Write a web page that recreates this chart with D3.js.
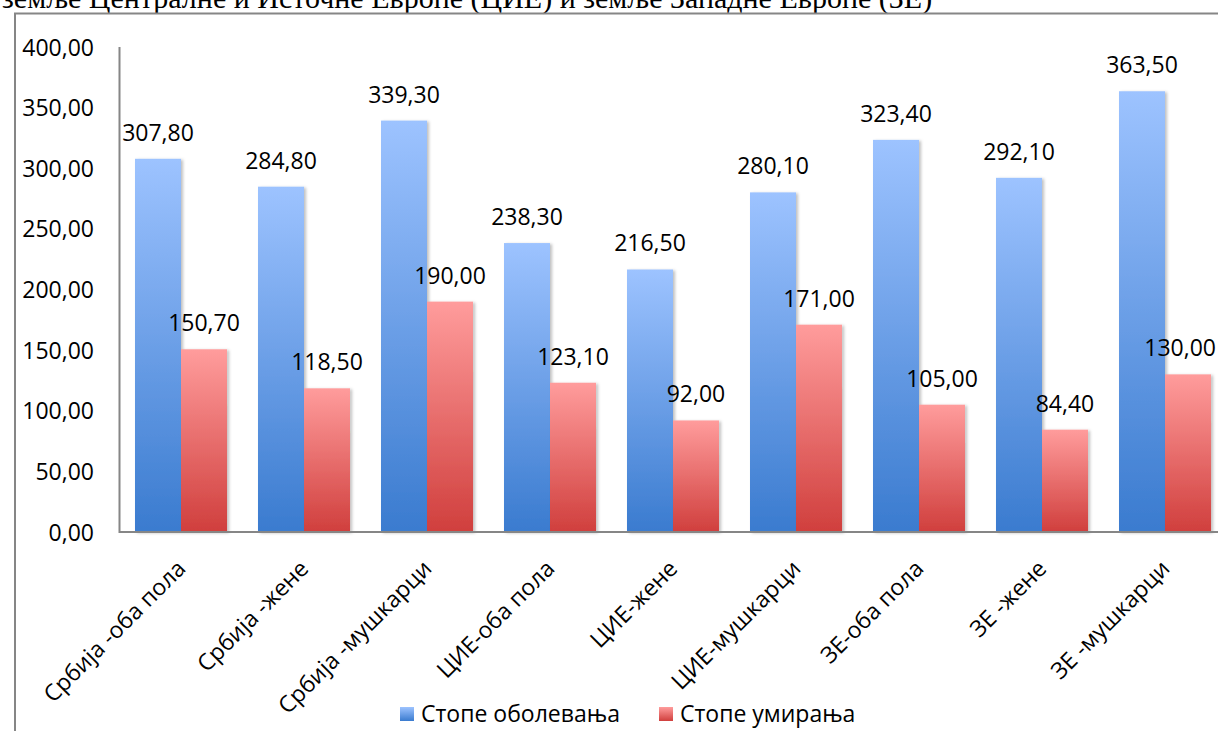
<!DOCTYPE html>
<html>
  <head>
    <meta charset="utf-8">
    <title>Стопе оболевања и умирања</title>
    <script src="https://d3js.org/d3.v7.min.js"></script>
    <style>
      body { margin: 0; background: #fff; }
      .axis .domain, .axis .tick line { display: none; }
      .axis .tick text { font-family: "Open Sans", sans-serif; font-size: 23px; fill: #000; }
      .lbl { font-family: "Open Sans", sans-serif; font-size: 23px; fill: #000; text-anchor: middle; }
      .legend text { font-family: "Open Sans", sans-serif; font-size: 23px; fill: #000; }
    </style>
  </head>
  <body>
    <svg width="1218" height="731"></svg>
    <script>
      const categories = ["Србија -оба пола", "Србија -жене", "Србија -мушкарци",
        "ЦИЕ-оба пола", "ЦИЕ-жене", "ЦИЕ-мушкарци", "ЗЕ-оба пола", "ЗЕ -жене", "ЗЕ -мушкарци"];
      const incidence = [307.8, 284.8, 339.3, 238.3, 216.5, 280.1, 323.4, 292.1, 363.5];
      const mortality = [150.7, 118.5, 190.0, 123.1, 92.0, 171.0, 105.0, 84.4, 130.0];
      const seriesNames = ["Стопе оболевања", "Стопе умирања"];
      const yTicks = [0, 50, 100, 150, 200, 250, 300, 350, 400];

      const svg = d3.select("svg");
      const W = +svg.attr("width");
      const fmt = v => v.toFixed(2).replace(".", ",");

      // gradients + bar shadow
      const defs = svg.append("defs");
      function grad(id, top, bottom) {
        const g = defs.append("linearGradient").attr("id", id)
          .attr("x1", 0).attr("y1", 0).attr("x2", 0).attr("y2", 1);
        g.append("stop").attr("offset", "0%").attr("stop-color", top);
        g.append("stop").attr("offset", "100%").attr("stop-color", bottom);
      }
      grad("gBlue", "#9dc3ff", "#3a7bcf");
      grad("gRed", "#ff9c9c", "#d03f3d");
      const f = defs.append("filter").attr("id", "shadow")
        .attr("x", "-10%").attr("y", "-5%").attr("width", "130%").attr("height", "115%");
      f.append("feDropShadow").attr("dx", 2).attr("dy", 1).attr("stdDeviation", 1.5)
        .attr("flood-color", "#000").attr("flood-opacity", 0.25);

      // title from the page above, cut off by the top edge as in the source
      svg.append("text")
        .attr("x", 2).attr("y", 8)
        .style("font-family", "'Liberation Serif', serif").style("font-size", "30px")
        .text("земље Централне и Источне Европе (ЦИЕ) и  земље Западне Европе (ЗЕ)");

      // outer frame
      svg.append("path")
        .attr("d", "M15,731 V13.5 H1218")
        .attr("fill", "none").attr("stroke", "#868686").attr("stroke-width", 2);

      const x0 = 119.5, x1 = 1226.5, yTop = 47, yBot = 532;
      const x = d3.scaleBand().domain(categories).range([x0, x1]).paddingInner(0.252).paddingOuter(0.126);
      const y = d3.scaleLinear().domain([0, 400]).range([yBot, yTop]);
      const bw = x.bandwidth() / 2;

      const g = svg.append("g");

      g.append("g").attr("class", "axis")
        .attr("transform", "translate(94,0)")
        .call(d3.axisLeft(y).tickValues(yTicks).tickSize(0).tickPadding(0).tickFormat(fmt))
        .selectAll(".tick text").attr("dy", "0.35em");

      const series = [
        { name: seriesNames[0], values: incidence, fill: "url(#gBlue)", off: 0 },
        { name: seriesNames[1], values: mortality, fill: "url(#gRed)", off: 1 }
      ];

      series.forEach(s => {
        g.append("g").selectAll("rect").data(s.values).join("rect")
          .attr("x", (d, i) => x(categories[i]) + s.off * bw)
          .attr("y", d => y(d))
          .attr("width", bw)
          .attr("height", d => y(0) - y(d))
          .attr("fill", s.fill)
          .attr("filter", "url(#shadow)");
        g.append("g").selectAll("text").data(s.values).join("text")
          .attr("class", "lbl")
          .attr("y", d => y(d) - 18)
          .text(fmt)
          .attr("x", function(d, i) {
            const cx = x(categories[i]) + s.off * bw + bw / 2;
            const half = this.getComputedTextLength() / 2;
            return Math.min(cx, W - 2 - half); // keep inside the picture, like the source
          });
      });

      // plot axes lines
      g.append("path")
        .attr("d", `M${x0},${yTop} V${yBot} H${W}`)
        .attr("fill", "none").attr("stroke", "#868686").attr("stroke-width", 2);

      // rotated category labels
      g.append("g").selectAll("text").data(categories).join("text")
        .attr("transform", d => `translate(${x(d) + x.bandwidth() / 2 + 6},${yBot + 38}) rotate(-45)`)
        .attr("text-anchor", "end")
        .style("font-family", "'Open Sans', sans-serif").style("font-size", "23px")
        .text(d => d);

      // legend
      const legend = svg.append("g").attr("class", "legend");
      const lx = [400, 659];
      series.forEach((s, i) => {
        legend.append("rect").attr("x", lx[i]).attr("y", 707).attr("width", 14).attr("height", 14)
          .attr("fill", s.fill);
        legend.append("text").attr("x", lx[i] + 21).attr("y", 722).text(s.name);
      });
    </script>
  </body>
</html>
